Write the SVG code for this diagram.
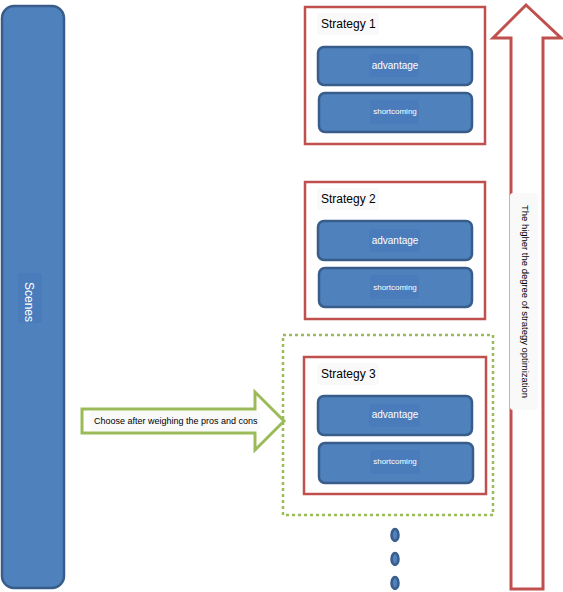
<svg xmlns="http://www.w3.org/2000/svg" width="563" height="592" viewBox="0 0 563 592">
<style>
.bluebox{fill:#4f81bd;stroke:#385d8a;stroke-width:2.5}
.lbl{fill:#4a7bbb}
.redbox{fill:#ffffff;stroke:#c0504d;stroke-width:2.5}
.grey{fill:#f9f9f9}
.t{font-family:"Liberation Sans",Arial,sans-serif}
.w{fill:#ffffff}
.k{fill:#000000}
</style>
<rect width="563" height="592" fill="#ffffff"/>
<g id="scenes">
<rect class="bluebox" x="2" y="6" width="62" height="582" rx="12"/>
<rect class="lbl" x="18" y="273" width="24" height="50" rx="3"/>
<text class="t w" font-size="12" text-anchor="middle" dominant-baseline="central" transform="translate(29,302) rotate(90)">Scenes</text>
</g>
<g id="strategy1">
<rect class="redbox" x="305" y="7" width="180" height="137"/>
<rect class="grey" x="317" y="13" width="62" height="22" rx="3"/>
<text class="t k" x="321" y="28" font-size="12">Strategy 1</text>
<rect class="bluebox" x="318" y="47" width="154" height="38" rx="6"/>
<rect class="lbl" x="369" y="54" width="50" height="23" rx="3"/>
<text class="t w" x="395" y="69" font-size="10" text-anchor="middle">advantage</text>
<rect class="bluebox" x="319" y="93" width="153" height="39" rx="6"/>
<rect class="lbl" x="370" y="100" width="49" height="24" rx="3"/>
<text class="t w" x="395" y="114" font-size="8" text-anchor="middle">shortcoming</text>
</g>
<g id="strategy2">
<rect class="redbox" x="305" y="182" width="180" height="137"/>
<rect class="grey" x="317" y="188" width="62" height="22" rx="3"/>
<text class="t k" x="321" y="203" font-size="12">Strategy 2</text>
<rect class="bluebox" x="318" y="221" width="154" height="39" rx="6"/>
<rect class="lbl" x="369" y="229" width="51" height="23" rx="3"/>
<text class="t w" x="395" y="244" font-size="10" text-anchor="middle">advantage</text>
<rect class="bluebox" x="319" y="268" width="153" height="39" rx="6"/>
<rect class="lbl" x="370" y="275" width="49" height="24" rx="3"/>
<text class="t w" x="395" y="290" font-size="8" text-anchor="middle">shortcoming</text>
</g>
<g id="selection">
<rect x="283" y="335" width="210" height="180" fill="none" stroke="#9bbb59" stroke-width="2.5" stroke-dasharray="3,3"/>
</g>
<g id="strategy3">
<rect class="redbox" x="304" y="357" width="182" height="137"/>
<rect class="grey" x="317" y="363" width="62" height="22" rx="3"/>
<text class="t k" x="321" y="378" font-size="12">Strategy 3</text>
<rect class="bluebox" x="318" y="396" width="154" height="39" rx="6"/>
<rect class="lbl" x="369" y="404" width="51" height="23" rx="3"/>
<text class="t w" x="395" y="418" font-size="10" text-anchor="middle">advantage</text>
<rect class="bluebox" x="319" y="443" width="154" height="40" rx="6"/>
<rect class="lbl" x="370" y="450" width="50" height="24" rx="3"/>
<text class="t w" x="395" y="464" font-size="8" text-anchor="middle">shortcoming</text>
</g>
<g id="more">
<ellipse class="bluebox" cx="395" cy="535" rx="3.5" ry="6" stroke-width="1.5"/>
<ellipse class="bluebox" cx="395" cy="559" rx="3.5" ry="6" stroke-width="1.5"/>
<ellipse class="bluebox" cx="395" cy="583" rx="3.5" ry="6" stroke-width="1.5"/>
</g>
<g id="connectors">
<g id="choose-arrow">
<path d="M82,409 L255,409 L255,392 L284,421 L255,450 L255,433 L82,433 Z" fill="#ffffff" stroke="#9bbb59" stroke-width="3"/>
<rect class="grey" x="90" y="411" width="170" height="20" rx="3"/>
<text class="t k" x="94" y="424" font-size="9">Choose after weighing the pros and cons</text>
</g>
<g id="optimization-arrow">
<path d="M526,5 L561,38 L543,38 L543,589 L511,589 L511,38 L493,38 Z" fill="#ffffff" stroke="#c0504d" stroke-width="3"/>
<rect class="grey" x="510" y="193" width="28" height="217" rx="3"/>
<text class="t k" font-size="9" text-anchor="middle" dominant-baseline="central" textLength="193" lengthAdjust="spacingAndGlyphs" transform="translate(525,301.5) rotate(90)">The higher the degree of strategy optimization</text>
</g>
</g>
</svg>
